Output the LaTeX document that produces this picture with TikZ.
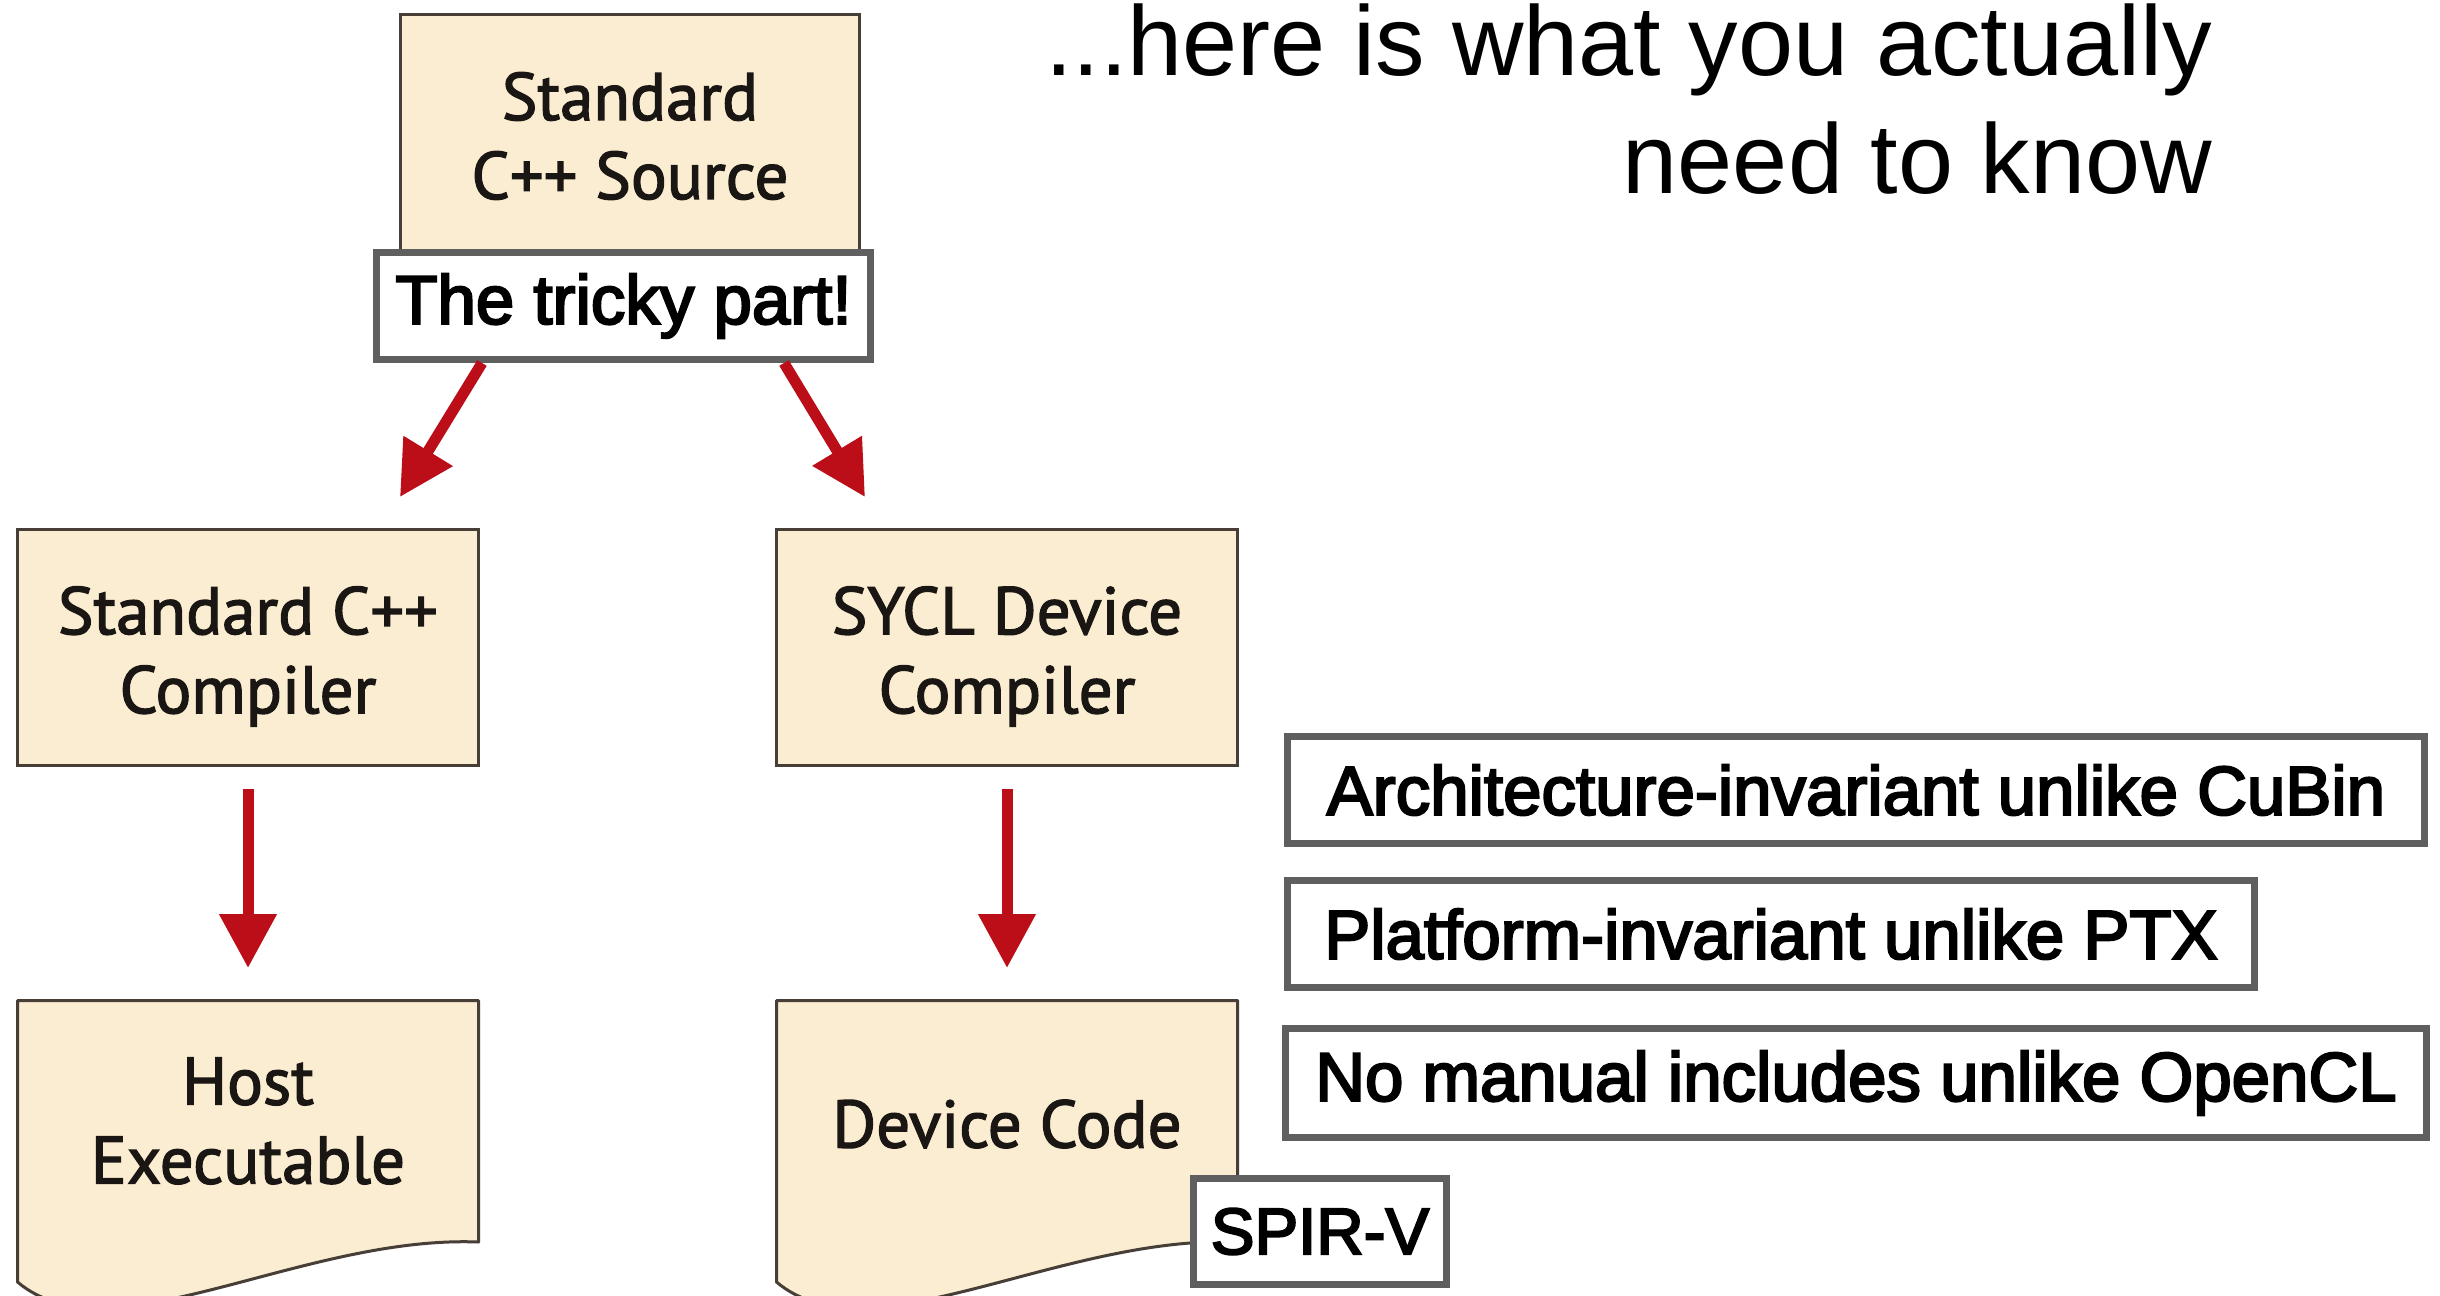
\documentclass[tikz,border=0pt]{standalone}
\usepackage{fontspec}
\setmainfont{Liberation Sans}
\newfontfamily\oldfont[FakeBold=2]{PT Sans}
\newfontfamily\lblfont[FakeBold=3.2]{Liberation Sans}
\usetikzlibrary{arrows.meta}
\definecolor{boxfill}{RGB}{251,237,209}
\definecolor{boxline}{RGB}{70,62,55}
\definecolor{arrred}{RGB}{188,14,24}
\definecolor{lblline}{RGB}{95,95,95}
\definecolor{oldtext}{RGB}{25,22,20}
\begin{document}
\begin{tikzpicture}[x=1pt,y=-1pt,
  oldbox/.style={draw=boxline, fill=boxfill, line width=3pt, inner sep=0pt},
  docshape/.style={draw=boxline, fill=boxfill, line width=3pt, line join=round},
  oldtxt/.style={align=center, font=\oldfont\fontsize{67pt}{79pt}\selectfont, text=oldtext, inner sep=0pt},
  lbl/.style={draw=lblline, fill=white, line width=7pt, text=black,
    font=\lblfont\fontsize{69pt}{80pt}\selectfont, inner sep=0pt},
  arr/.style={draw=arrred, line width=11pt, -{Triangle[length=54pt,width=55pt]}},
  title/.style={font=\fontsize{99pt}{117pt}\selectfont, anchor=base east, inner sep=0pt}]
\useasboundingbox (0,0) rectangle (2440,1295);
\fill[white] (0,0) rectangle (2440,1295);

% title
\node[title] (t1) at (2212,76) {...here is what you actually};
\node[title] (t2) at (2212,193) {need to know};

% source box and label
\node[oldbox, minimum width=459pt, minimum height=252pt] (src) at (630,140.5) {};
\node[oldtxt] (srcT) at (630,136) {Standard\\C++ Source};
\node[lbl, minimum width=494pt, minimum height=107pt] (tricky) at (623.5,306) {The tricky part!};

% compilers
\node[oldbox, minimum width=461pt, minimum height=236pt] (cppc) at (248,647.5) {};
\node[oldtxt] (cppcT) at (248,656.5) {Standard C++\\Compiler};
\node[oldbox, minimum width=461pt, minimum height=236pt] (sycl) at (1007,647.5) {};
\node[oldtxt] (syclT) at (1007,656.5) {SYCL Device\\Compiler};

% documents
\draw[docshape] (17.5,1000.5) -- (478.5,1000.5) -- (478.5,1242) .. controls (300,1235) and (110,1360) .. (17.5,1282) -- cycle;
\coordinate (hostTop) at (248,999);
\node[oldtxt] (host) at (248,1121) {Host\\Executable};

\draw[docshape] (776.5,1000.5) -- (1237.5,1000.5) -- (1237.5,1242) .. controls (1059,1235) and (869,1360) .. (776.5,1282) -- cycle;
\coordinate (devTop) at (1007,999);
\node[oldtxt] (dev) at (1007,1124) {Device Code};

% labels
\node[lbl, minimum width=253pt, minimum height=106pt, font=\lblfont\fontsize{65.5pt}{76pt}\selectfont] (spirv) at (1320,1231.5) {SPIR-V};
\node[lbl, minimum width=1137pt, minimum height=107pt] (arch) at (1856,790) {Architecture-invariant unlike CuBin};
\node[lbl, minimum width=967pt, minimum height=107pt] (plat) at (1771,934) {Platform-invariant unlike PTX};
\node[lbl, minimum width=1141pt, minimum height=109pt] (noman) at (1856,1083) {No manual includes unlike OpenCL};

% arrows
\draw[arr] ([xshift=109pt]tricky.south west) -- ([xshift=384pt,yshift=31pt]cppc.north west);
\draw[arr] ([xshift=411pt]tricky.south west) -- ([xshift=90pt,yshift=31pt]sycl.north west);
\draw[arr] ([yshift=-22pt]cppc.south) -- ([yshift=31pt]hostTop);
\draw[arr] ([yshift=-22pt]sycl.south) -- ([yshift=31pt]devTop);
\end{tikzpicture}
\end{document}
